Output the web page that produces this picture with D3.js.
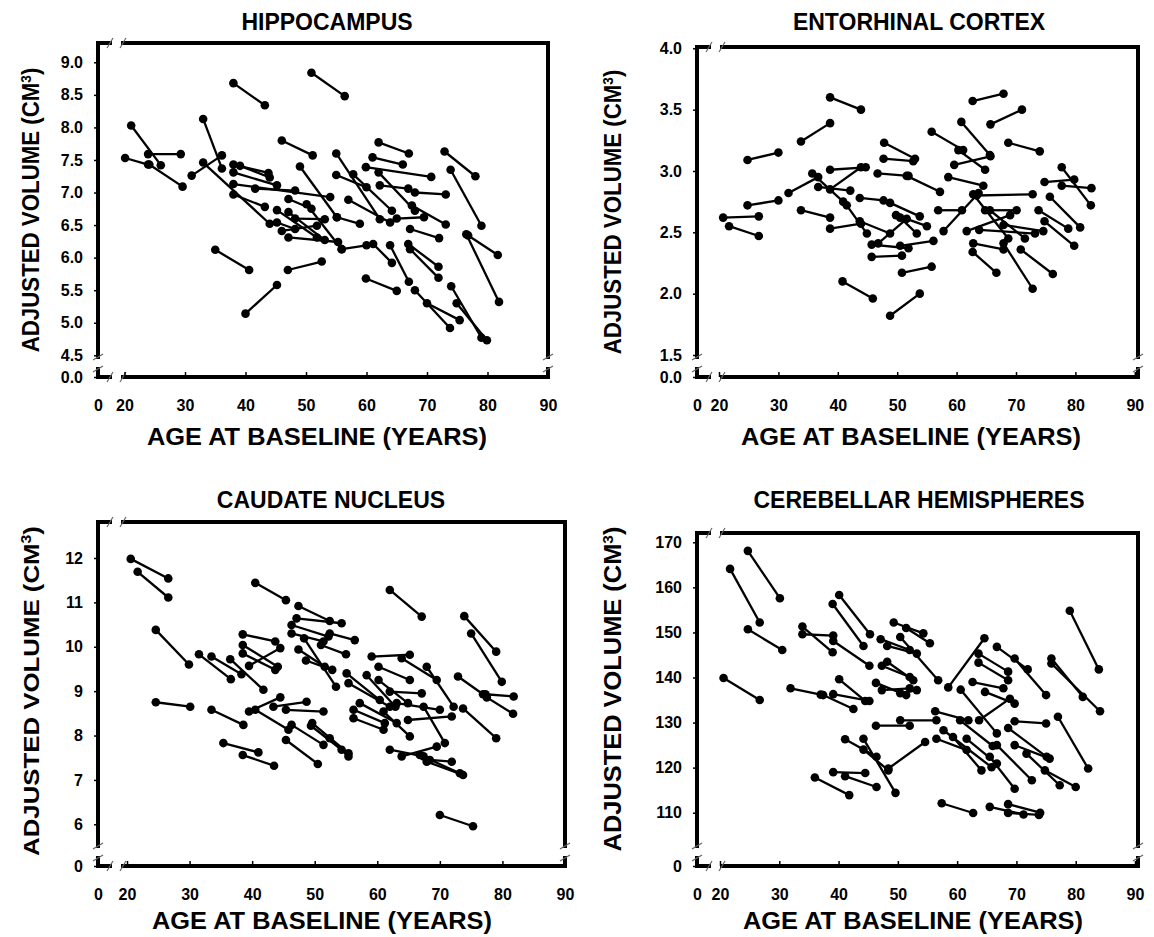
<!DOCTYPE html>
<html>
<head>
<meta charset="utf-8">
<script src="https://cdn.jsdelivr.net/npm/d3@7/dist/d3.min.js"></script>
<style>
  body { margin: 0; background: #fff; }
  svg text { font-family: "Liberation Sans", Arial, sans-serif; font-weight: bold; fill: #000; }
  .tick text { font-size: 16px; }
  .ptitle { font-size: 23px; }
  .atitle { font-size: 23px; }
</style>
</head>
<body>
<svg id="fig" width="1154" height="937"></svg>
<script>
// 1: DATA  -- each row is one subject: [age at baseline, volume, age at follow-up, volume]
const ageTicks = [0, 20, 30, 40, 50, 60, 70, 80, 90];

const hippoTicks = [0, 4.5, 5.0, 5.5, 6.0, 6.5, 7.0, 7.5, 8.0, 8.5, 9.0];
const hippocampus = [
  [50.9, 8.84, 56.4, 8.48], [38.0, 8.68, 43.2, 8.34], [21.1, 8.03, 26.0, 7.42],
  [23.9, 7.59, 29.3, 7.59], [20.1, 7.53, 23.9, 7.43], [24.1, 7.43, 29.6, 7.09],
  [33.0, 8.13, 36.1, 7.37], [31.1, 7.26, 36.1, 7.57], [33.0, 7.46, 44.0, 6.52],
  [38.0, 7.43, 43.8, 7.30], [39.1, 7.41, 44.0, 7.23], [38.0, 7.13, 54.0, 6.93],
  [41.6, 7.06, 48.2, 7.03], [38.0, 7.31, 45.2, 7.11], [38.0, 6.97, 43.2, 6.78],
  [45.2, 6.73, 51.8, 6.31], [47.1, 6.90, 50.9, 6.75], [47.1, 6.70, 53.1, 6.27],
  [46.0, 6.41, 51.8, 6.49], [45.2, 6.54, 48.2, 6.44], [47.1, 6.31, 55.3, 6.24],
  [49.0, 7.40, 55.1, 6.62], [46.0, 7.80, 51.1, 7.57], [35.0, 6.12, 40.6, 5.81],
  [47.0, 5.81, 52.6, 5.94], [40.0, 5.14, 45.2, 5.58], [50.1, 6.82, 55.9, 6.13],
  [48.2, 6.60, 53.1, 6.59], [55.0, 7.60, 62.2, 6.59], [55.0, 7.27, 60.0, 7.08],
  [62.0, 7.77, 67.0, 7.60], [61.0, 7.54, 66.0, 7.43], [72.9, 7.63, 78.0, 7.25],
  [73.9, 7.35, 79.0, 6.49], [59.9, 7.39, 70.7, 7.24], [62.0, 7.31, 68.0, 6.72],
  [57.8, 7.28, 64.2, 6.72], [62.2, 7.11, 66.9, 7.06], [68.0, 7.00, 73.1, 6.97],
  [57.0, 6.89, 63.9, 6.54], [67.5, 6.80, 73.1, 6.51], [65.0, 6.60, 69.5, 6.62],
  [67.2, 6.44, 72.0, 6.30], [66.9, 6.21, 71.9, 5.86], [67.2, 6.13, 71.9, 5.69],
  [76.8, 6.34, 81.7, 6.04], [76.5, 6.36, 81.9, 5.32], [55.9, 6.13, 60.0, 6.19],
  [61.1, 6.21, 64.2, 5.92], [63.9, 6.19, 67.0, 5.63], [59.9, 5.68, 65.0, 5.49],
  [68.0, 5.50, 73.8, 4.92], [70.0, 5.30, 75.4, 5.04], [74.0, 5.56, 79.0, 4.77],
  [74.9, 5.30, 79.9, 4.73], [55.1, 6.62, 58.9, 6.52]
];

const entoTicks = [0, 1.5, 2.0, 2.5, 3.0, 3.5, 4.0];
const entorhinal = [
  [38.7, 3.60, 43.9, 3.50], [33.8, 3.24, 38.7, 3.39], [24.8, 3.09, 30.0, 3.15],
  [38.7, 3.01, 44.7, 3.03], [31.7, 2.82, 36.7, 2.95], [35.7, 2.98, 40.9, 2.75],
  [36.7, 2.87, 42.1, 2.84], [38.7, 2.85, 43.9, 3.03], [24.8, 2.72, 30.0, 2.76],
  [20.7, 2.62, 26.7, 2.63], [21.7, 2.55, 26.7, 2.47], [33.8, 2.68, 38.7, 2.62],
  [38.7, 2.53, 43.9, 2.57], [40.8, 2.10, 45.9, 1.96], [48.8, 1.82, 53.8, 2.00],
  [41.5, 2.72, 44.9, 2.49], [43.7, 2.78, 47.7, 2.76], [47.8, 3.23, 53.0, 3.10],
  [47.7, 3.10, 52.7, 3.08], [46.7, 2.98, 51.9, 2.96], [45.7, 2.40, 51.9, 2.37],
  [45.7, 2.30, 50.8, 2.31], [50.8, 2.17, 55.8, 2.22], [43.7, 2.59, 48.8, 2.49],
  [46.8, 2.41, 51.6, 2.61], [48.8, 2.74, 53.8, 2.63], [49.8, 2.64, 55.0, 2.55],
  [62.7, 3.57, 67.9, 3.63], [65.7, 3.38, 71.0, 3.50], [60.8, 3.40, 65.6, 3.13],
  [55.8, 3.32, 61.1, 3.17], [68.7, 3.23, 74.0, 3.16], [59.6, 3.05, 65.7, 3.12],
  [60.3, 3.17, 64.8, 3.01], [77.7, 3.03, 82.6, 2.72], [74.8, 2.91, 79.8, 2.93],
  [77.7, 2.88, 82.7, 2.86], [75.7, 2.79, 80.8, 2.54], [73.8, 2.68, 78.8, 2.53],
  [74.8, 2.59, 79.8, 2.39], [70.8, 2.36, 76.2, 2.16], [67.9, 2.41, 72.8, 2.04],
  [62.7, 2.34, 66.7, 2.17], [58.6, 2.95, 64.5, 2.88], [51.6, 2.96, 57.2, 2.83],
  [63.4, 2.80, 72.8, 2.81], [64.8, 2.68, 70.1, 2.68], [56.9, 2.68, 60.9, 2.68],
  [57.8, 2.51, 63.7, 2.82], [61.7, 2.51, 69.0, 2.64], [63.8, 2.52, 73.2, 2.49],
  [67.9, 2.56, 74.6, 2.51], [65.6, 2.68, 71.5, 2.45], [62.8, 2.41, 67.9, 2.36],
  [50.5, 2.62, 53.3, 2.49], [50.5, 2.39, 56.1, 2.43], [62.8, 2.81, 68.7, 2.45]
];

const caudTicks = [0, 6, 7, 8, 9, 10, 11, 12];
const caudate = [
  [20.6, 11.98, 26.6, 11.54], [21.7, 11.69, 26.6, 11.11], [24.6, 10.38, 29.9, 9.60],
  [24.6, 8.75, 30.1, 8.65], [31.5, 9.83, 36.6, 9.27], [33.5, 9.78, 38.3, 9.38],
  [36.5, 9.72, 41.8, 9.03], [33.5, 8.58, 38.6, 8.24], [35.4, 7.83, 41.0, 7.62],
  [38.5, 7.56, 43.5, 7.32], [38.5, 10.28, 43.7, 10.12], [38.5, 10.04, 44.1, 9.55],
  [38.5, 9.85, 43.7, 9.48], [39.5, 9.57, 44.5, 9.97], [40.5, 11.44, 45.4, 11.05],
  [39.5, 8.54, 44.5, 8.86], [40.5, 8.58, 45.8, 8.13], [43.4, 8.65, 48.7, 8.76],
  [45.4, 8.58, 51.4, 8.54], [46.3, 8.24, 51.4, 7.79], [45.4, 7.90, 50.5, 7.36],
  [49.4, 8.22, 54.3, 7.68], [47.4, 10.92, 52.4, 10.58], [47.1, 10.64, 54.3, 10.53],
  [46.3, 10.49, 52.2, 10.23], [46.3, 10.30, 51.4, 10.12], [47.4, 9.94, 51.6, 9.55],
  [48.3, 10.19, 53.4, 9.10], [48.6, 9.69, 52.8, 9.48], [62.0, 11.28, 67.1, 10.68],
  [73.9, 10.69, 79.0, 9.89], [75.0, 10.30, 79.9, 9.21], [72.9, 9.33, 76.9, 8.93],
  [77.3, 8.93, 81.8, 8.88], [77.5, 8.86, 81.7, 8.49], [73.7, 8.61, 79.0, 7.94],
  [70.0, 6.21, 75.3, 5.72], [59.1, 9.78, 65.2, 9.82], [60.2, 9.55, 65.2, 9.25],
  [63.9, 9.74, 69.5, 9.25], [67.9, 9.55, 72.2, 8.65], [55.1, 9.40, 60.4, 8.80],
  [55.4, 9.18, 62.0, 8.65], [58.3, 9.36, 62.9, 8.65], [60.2, 9.25, 64.9, 8.73],
  [62.0, 8.99, 67.1, 8.95], [56.2, 8.58, 61.2, 8.28], [56.2, 8.39, 61.0, 8.13],
  [57.2, 8.73, 63.1, 8.28], [61.0, 8.54, 65.2, 7.98], [63.1, 8.73, 70.0, 8.58],
  [67.4, 8.65, 70.8, 7.83], [64.9, 8.35, 71.9, 8.43], [62.0, 7.68, 67.4, 7.53],
  [63.9, 7.53, 69.5, 7.75], [66.8, 7.56, 73.2, 7.15], [67.9, 7.41, 73.7, 7.11],
  [68.4, 7.45, 71.9, 7.41], [49.6, 8.28, 55.4, 7.60], [52.4, 7.94, 55.4, 7.53],
  [52.4, 10.30, 56.4, 10.15], [51.0, 10.04, 55.0, 9.83]
];

const cereTicks = [0, 110, 120, 130, 140, 150, 160, 170];
const cerebellar = [
  [21.7, 164.1, 26.7, 152.2], [24.7, 168.1, 30.1, 157.6], [24.7, 150.7, 30.5, 146.1],
  [20.6, 139.9, 26.7, 135.0], [31.9, 137.6, 37.0, 136.2], [33.9, 151.3, 39.0, 145.6],
  [33.9, 149.6, 39.1, 149.3], [39.1, 148.1, 45.2, 142.6], [40.1, 158.3, 45.3, 149.6],
  [39.0, 156.3, 44.2, 147.0], [40.1, 139.6, 44.5, 134.8], [39.1, 136.3, 45.2, 134.8],
  [37.4, 136.1, 42.5, 133.0], [41.1, 126.3, 46.4, 122.4], [44.2, 126.4, 49.6, 114.4],
  [44.2, 124.0, 48.4, 119.4], [39.1, 119.0, 44.5, 118.8], [41.1, 118.1, 46.4, 115.7],
  [36.0, 117.8, 41.8, 113.9], [46.3, 129.3, 52.0, 129.3], [48.4, 119.8, 54.6, 125.7],
  [46.3, 138.8, 51.4, 136.1], [47.3, 137.2, 52.0, 137.6], [47.1, 148.5, 52.0, 146.1],
  [48.2, 147.0, 53.2, 145.3], [47.3, 142.6, 52.0, 140.1], [48.2, 143.5, 52.6, 139.4],
  [49.3, 152.2, 54.3, 149.8], [79.0, 154.8, 83.9, 141.8], [58.5, 137.8, 64.6, 148.7],
  [66.7, 146.8, 71.9, 141.8], [69.7, 144.2, 75.0, 136.1], [75.9, 144.2, 81.2, 135.7],
  [75.9, 143.1, 84.1, 132.5], [63.6, 145.3, 68.6, 141.3], [63.6, 143.3, 68.6, 139.4],
  [51.4, 151.0, 55.4, 147.6], [50.4, 149.0, 56.8, 139.4], [62.6, 139.0, 67.8, 137.6],
  [64.7, 136.8, 69.7, 134.2], [60.6, 137.3, 66.7, 127.6], [77.0, 131.3, 82.1, 119.8],
  [69.7, 130.3, 75.0, 129.8], [63.7, 130.5, 68.9, 135.3], [56.3, 132.5, 61.9, 130.5],
  [60.5, 130.5, 66.0, 124.8], [68.6, 128.8, 75.1, 122.4], [71.7, 123.1, 77.3, 116.1],
  [74.8, 119.4, 80.0, 115.7], [69.7, 125.0, 75.6, 122.0], [66.7, 125.0, 72.6, 117.2],
  [65.5, 122.4, 69.7, 115.3], [61.6, 126.4, 66.7, 120.9], [56.5, 126.4, 61.6, 123.9],
  [59.3, 126.8, 64.1, 119.4], [57.7, 128.3, 65.8, 120.1], [57.4, 112.1, 62.7, 109.4],
  [65.5, 111.3, 71.2, 106.4], [68.6, 111.9, 74.0, 110.0], [68.6, 109.6, 73.8, 105.3],
  [50.4, 130.5, 56.5, 130.5], [50.4, 136.5, 53.2, 137.2]
];

// 2: PANEL LAYOUT (pixel boxes; both axes are broken between 0 and the first real tick)
const panels = [
  { title: "HIPPOCAMPUS", data: hippocampus, yTicks: hippoTicks, yFmt: d3.format(".1f"),
    box: { l: 98, t: 43, r: 548, b: 377 },
    xDomain: [0, 20, 90], xRange: [98, 124.5, 548],
    yDomain: [0, 4.5, 9.0], yRange: [377, 355.3, 62.3],
    titleX: 327, titleY: 30, xTitleX: 317, xTitleY: 445,
    yTitleX: 39, yTitleY: 210, yTitleLen: 285 },
  { title: "ENTORHINAL CORTEX", data: entorhinal, yTicks: entoTicks, yFmt: d3.format(".1f"),
    box: { l: 697, t: 47, r: 1138, b: 377 },
    xDomain: [0, 20, 90], xRange: [697, 719, 1134.8],
    yDomain: [0, 1.5, 4.0], yRange: [377, 355, 48.3],
    titleX: 919, titleY: 30, xTitleX: 911, xTitleY: 445,
    yTitleX: 621, yTitleY: 212, yTitleLen: 285 },
  { title: "CAUDATE NUCLEUS", data: caudate, yTicks: caudTicks, yFmt: d3.format("d"),
    box: { l: 98, t: 522, r: 565, b: 866 },
    xDomain: [0, 20, 90], xRange: [98, 127, 565],
    yDomain: [0, 6, 12], yRange: [866, 824.3, 558],
    titleX: 331, titleY: 508, xTitleX: 322, xTitleY: 929,
    yTitleX: 39, yTitleY: 691, yTitleLen: 330 },
  { title: "CEREBELLAR HEMISPHERES", data: cerebellar, yTicks: cereTicks, yFmt: d3.format("d"),
    box: { l: 697, t: 533, r: 1138, b: 866 },
    xDomain: [0, 20, 90], xRange: [697, 720, 1135],
    yDomain: [0, 110, 170], yRange: [866, 812.7, 542.3],
    titleX: 919, titleY: 508, xTitleX: 913, xTitleY: 929,
    yTitleX: 621, yTitleY: 689, yTitleLen: 325 }
];

const svg = d3.select("#fig");

function drawPanel(p) {
  const x = d3.scaleLinear().domain(p.xDomain).range(p.xRange);
  const y = d3.scaleLinear().domain(p.yDomain).range(p.yRange);
  const { l, t, r, b } = p.box;
  const g = svg.append("g");

  // frame with axis breaks
  const gx0 = x(0) + 12, gx1 = x(0) + 25;
  const gy0 = y(0) - 20, gy1 = y(0) - 8;
  const frame = [
    [l, t, gx0, t], [gx1, t, r, t],
    [r, t, r, gy0], [r, gy1, r, b],
    [l, t, l, gy0], [l, gy1, l, b],
    [l, b, gx0, b], [gx1, b, r, b]
  ];
  g.append("g").selectAll("line").data(frame).join("line")
    .attr("x1", d => d[0]).attr("y1", d => d[1])
    .attr("x2", d => d[2]).attr("y2", d => d[3])
    .attr("stroke", "#000").attr("stroke-width", 4).attr("stroke-linecap", "square");

  // little "//" marks at each break
  const slashes = [
    [gx0, t, 0], [gx1, t, 0], [gx0, b, 0], [gx1, b, 0],
    [l, gy0, 1], [l, gy1, 1], [r, gy0, 1], [r, gy1, 1]
  ];
  g.append("g").selectAll("line").data(slashes).join("line")
    .attr("x1", d => d[2] ? d[0] - 5 : d[0] - 3)
    .attr("y1", d => d[2] ? d[1] + 3 : d[1] + 5)
    .attr("x2", d => d[2] ? d[0] + 5 : d[0] + 3)
    .attr("y2", d => d[2] ? d[1] - 3 : d[1] - 5)
    .attr("stroke", "#666").attr("stroke-width", 1.2);

  // axes
  const yAxis = g.append("g")
    .attr("transform", `translate(${l},0)`)
    .call(d3.axisLeft(y).tickValues(p.yTicks).tickFormat(p.yFmt).tickSize(4).tickPadding(11));
  yAxis.select(".domain").remove();
  yAxis.selectAll(".tick line").attr("stroke-width", 1.5);

  const xAxis = g.append("g")
    .attr("transform", `translate(0,${b})`)
    .call(d3.axisBottom(x).tickValues(ageTicks).tickFormat(d3.format("d"))
      .tickSizeInner(-5).tickSizeOuter(0).tickPadding(23));
  xAxis.select(".domain").remove();
  xAxis.selectAll(".tick line").attr("stroke-width", 1.5);

  // subject trajectories
  g.append("g").selectAll("line").data(p.data).join("line")
    .attr("x1", d => x(d[0])).attr("y1", d => y(d[1]))
    .attr("x2", d => x(d[2])).attr("y2", d => y(d[3]))
    .attr("stroke", "#000").attr("stroke-width", 2.3);

  const pts = p.data.flatMap(d => [[d[0], d[1]], [d[2], d[3]]]);
  g.append("g").selectAll("circle").data(pts).join("circle")
    .attr("cx", d => x(d[0])).attr("cy", d => y(d[1]))
    .attr("r", 4.3).attr("fill", "#000");

  // labels
  g.append("text").attr("class", "ptitle")
    .attr("x", p.titleX).attr("y", p.titleY)
    .attr("text-anchor", "middle").text(p.title);

  g.append("text").attr("class", "atitle")
    .attr("x", p.xTitleX).attr("y", p.xTitleY)
    .attr("text-anchor", "middle")
    .attr("textLength", 340).attr("lengthAdjust", "spacingAndGlyphs")
    .text("AGE AT BASELINE (YEARS)");

  // y title: rotated, then stretched along its own length to the measured size
  const yg = g.append("g");
  const yt = yg.append("text").attr("class", "atitle").attr("text-anchor", "middle");
  yt.append("tspan").text("ADJUSTED VOLUME (CM");
  yt.append("tspan").attr("dy", -8).style("font-size", "14px").text("3");
  yt.append("tspan").attr("dy", 8).text(")");
  const natural = yt.node().getComputedTextLength() || p.yTitleLen;
  yg.attr("transform",
    `translate(${p.yTitleX},${p.yTitleY}) rotate(-90) scale(${p.yTitleLen / natural},1)`);
}

panels.forEach(drawPanel);
</script>
</body>
</html>
